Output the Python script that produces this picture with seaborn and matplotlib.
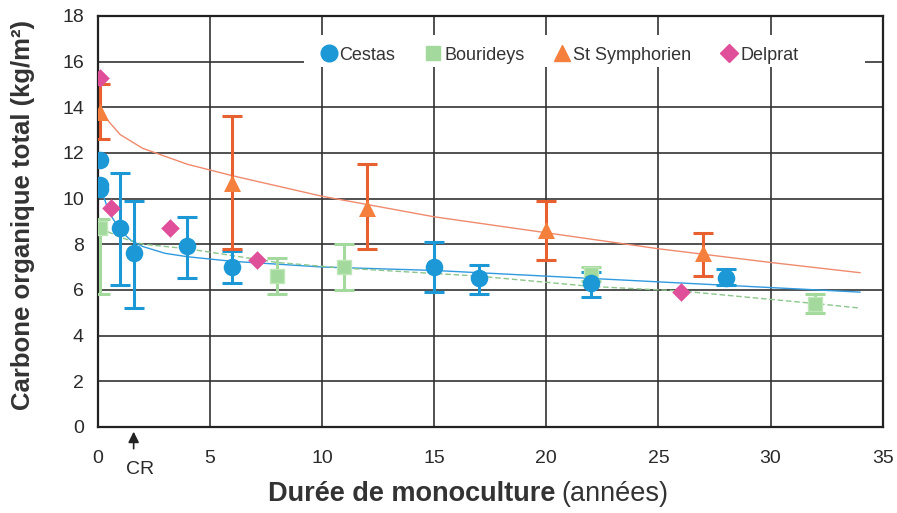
import matplotlib
matplotlib.use("Agg")
import matplotlib.pyplot as plt
import matplotlib.patches as mpatches
import seaborn as sns

# --- data ---
cestas_x = [0.1, 0.1, 0.1, 1.0, 1.6, 4.0, 6.0, 15.0, 17.0, 22.0, 28.0]
cestas_y = [11.7, 10.6, 10.4, 8.7, 7.6, 7.9, 7.0, 7.0, 6.5, 6.3, 6.5]
cestas_lo = [None, None, None, 6.2, 5.2, 6.5, 6.3, 5.9, 5.8, 5.7, 6.2]
cestas_hi = [None, None, None, 11.1, 9.9, 9.2, 7.7, 8.1, 7.1, 6.8, 6.9]

bour_x = [0.1, 8.0, 11.0, 22.0, 32.0]
bour_y = [8.7, 6.6, 7.0, 6.7, 5.4]
bour_lo = [5.8, 5.8, 6.0, 6.4, 5.0]
bour_hi = [9.1, 7.4, 8.0, 7.0, 5.8]

symph_x = [0.1, 6.0, 12.0, 20.0, 27.0]
symph_y = [13.8, 10.7, 9.6, 8.6, 7.6]
symph_lo = [12.6, 7.8, 7.8, 7.3, 6.6]
symph_hi = [15.0, 13.6, 11.5, 9.9, 8.5]

delp_x = [0.1, 0.6, 3.2, 7.1, 26.0]
delp_y = [15.3, 9.6, 8.7, 7.3, 5.9]

# trend curves as drawn in the figure
trend_symph_x = [0.2, 1, 2, 4, 6, 10, 15, 20, 25, 30, 34]
trend_symph_y = [13.7, 12.8, 12.2, 11.5, 11.0, 10.1, 9.2, 8.5, 7.8, 7.2, 6.75]
trend_cestas_x = [0.15, 0.5, 1, 1.5, 2, 3, 4, 6, 10, 15, 20, 25, 30, 34]
trend_cestas_y = [10.4, 9.4, 8.6, 8.15, 7.9, 7.6, 7.45, 7.25, 7.0, 6.85, 6.6, 6.35, 6.1, 5.9]
trend_bour_x = [0.1, 1, 2, 4, 8, 11, 17, 22, 26, 32, 34]
trend_bour_y = [8.7, 8.3, 8.0, 7.8, 7.2, 6.95, 6.6, 6.15, 5.95, 5.4, 5.2]

x_ticks = [0, 5, 10, 15, 20, 25, 30, 35]
y_ticks = [0, 2, 4, 6, 8, 10, 12, 14, 16, 18]
labels = ["Cestas", "Bourideys", "St Symphorien", "Delprat"]

c_blue = "#1b98d5"
c_green = "#a3d99c"
c_orange = "#f5803e"
c_orange_err = "#e8602f"
c_pink = "#e0509a"
c_text = "#2a2a2a"

sns.set_style("white")
plt.rcParams["font.family"] = ["Liberation Sans", "DejaVu Sans"]

fig = plt.figure(figsize=(8.97, 5.13), dpi=100)
ax = fig.add_axes([0.109, 0.168, 0.875, 0.801])

ax.set_xlim(0, 35)
ax.set_ylim(0, 18)
ax.set_xticks(x_ticks)
ax.set_yticks(y_ticks)
ax.grid(True, color="#333333", linewidth=1.2)
ax.set_axisbelow(True)
for s in ax.spines.values():
    s.set_color("#222222")
    s.set_linewidth(1.6)
ax.tick_params(axis="x", length=0, labelsize=14, colors=c_text, pad=17)
ax.tick_params(axis="y", length=0, labelsize=14, colors=c_text, pad=10)

# white box behind the legend hides the grid there
ax.add_patch(mpatches.Rectangle((9.2, 15.75), 25.0, 1.4, facecolor="white",
                                edgecolor="none", zorder=1))

# trend lines
sns.lineplot(x=trend_symph_x, y=trend_symph_y, ax=ax, color="#f08a6e", linewidth=1.0, zorder=2)
sns.lineplot(x=trend_cestas_x, y=trend_cestas_y, ax=ax, color="#2f9ae0", linewidth=1.0, zorder=2)
sns.lineplot(x=trend_bour_x, y=trend_bour_y, ax=ax, color="#8cc68a", linewidth=1.0,
             linestyle=(0, (4, 2)), zorder=2)


def err_bars(xs, ys, lo, hi, color):
    for x, y, l, h in zip(xs, ys, lo, hi):
        if l is None:
            continue
        ax.errorbar(x, y, yerr=[[y - l], [h - y]], fmt="none", ecolor=color,
                    elinewidth=2.2, capsize=7, capthick=2.2, zorder=3)


err_bars(cestas_x, cestas_y, cestas_lo, cestas_hi, c_blue)
err_bars(bour_x, bour_y, bour_lo, bour_hi, c_green)
err_bars(symph_x, symph_y, symph_lo, symph_hi, c_orange_err)

sns.scatterplot(x=bour_x, y=bour_y, ax=ax, marker="s", s=110, color=c_green,
                edgecolor="#bfe8b8", linewidth=1, zorder=4)
sns.scatterplot(x=cestas_x, y=cestas_y, ax=ax, marker="o", s=160, color=c_blue,
                edgecolor=c_blue, linewidth=0, zorder=5)
sns.scatterplot(x=symph_x, y=symph_y, ax=ax, marker="^", s=150, color=c_orange,
                edgecolor=c_orange, linewidth=0, zorder=5)
sns.scatterplot(x=delp_x, y=delp_y, ax=ax, marker="D", s=90, color=c_pink,
                edgecolor=c_pink, linewidth=0, zorder=5)

# legend
handles = [
    plt.Line2D([], [], marker="o", color=c_blue, linestyle="none", markersize=12),
    plt.Line2D([], [], marker="s", color=c_green, linestyle="none", markersize=10),
    plt.Line2D([], [], marker="^", color=c_orange, linestyle="none", markersize=12),
    plt.Line2D([], [], marker="D", color=c_pink, linestyle="none", markersize=9),
]
leg = ax.legend(handles, labels, ncol=4, loc="upper left", bbox_to_anchor=(0.262, 0.96),
                frameon=False, fontsize=13, handletextpad=0.0, columnspacing=1.5,
                borderpad=0.3, handlelength=1.2)
for t in leg.get_texts():
    t.set_color("#333333")

# CR marker
ax.annotate("", xy=(1.6, -0.005), xycoords=("data", "axes fraction"),
            xytext=(1.6, -0.06), textcoords=("data", "axes fraction"),
            arrowprops=dict(arrowstyle="-|>", color="#222222", lw=1.2, mutation_scale=16),
            annotation_clip=False)
ax.text(1.9, -0.105, "CR", transform=ax.get_xaxis_transform(), ha="center", va="center",
        fontsize=14, color=c_text)

ax.set_xlabel("")
ax.set_ylabel("")
fig.text(0.026, 0.58, "Carbone organique total (kg/m²)", fontsize=18.5, fontweight="bold",
         color="#333333", rotation=90, ha="center", va="center")
fig.text(0.619, 0.038, "Durée de monoculture", fontsize=19.5, fontweight="bold",
         color="#333333", ha="right", va="center")
fig.text(0.626, 0.038, "(années)", fontsize=19.5, color="#333333", ha="left", va="center")

fig.savefig("out.png", dpi=100)
